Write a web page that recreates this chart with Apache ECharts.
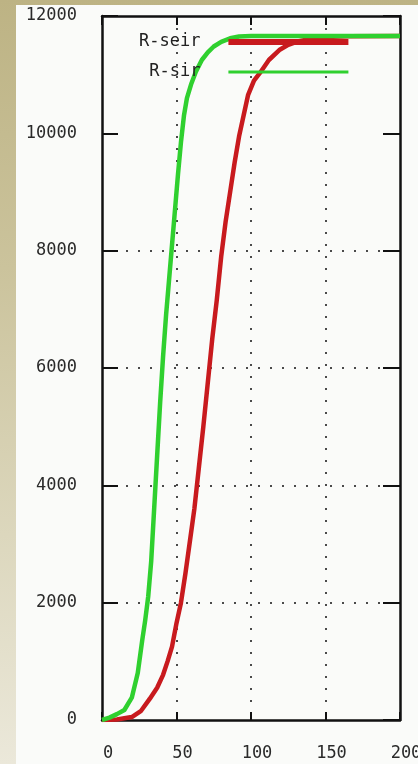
<!DOCTYPE html>
<html>
<head>
<meta charset="utf-8">
<script src="https://cdn.jsdelivr.net/npm/echarts@6/dist/echarts.min.js"></script>
<style>
  html, body { margin: 0; padding: 0; }
  body {
    width: 418px; height: 764px; overflow: hidden; position: relative;
    background: linear-gradient(180deg, #bdb384 0%, #cbc39c 35%, #dcd7bd 70%, #ebe8da 100%);
  }
  #chart { position: absolute; left: 16px; top: 5px; width: 402px; height: 759px; background: #fafbf9; }
</style>
</head>
<body>
<div id="chart"></div>
<script>
// Series names
const seriesNames = ['R-seir', 'R-sir'];

// R-seir (red) curve: time values and recovered counts
const seirT = [0, 10, 20, 26, 32, 37, 41, 44, 47, 50, 53, 56, 59, 62, 65, 68, 71, 74, 77, 80, 83, 86, 89, 92, 95, 98, 102, 106, 112, 119, 125, 132, 140, 150, 165, 200];
const seirV = [0, 10, 50, 150, 360, 550, 770, 1000, 1250, 1650, 2000, 2500, 3050, 3600, 4300, 5000, 5750, 6500, 7150, 7900, 8500, 9000, 9500, 9950, 10300, 10650, 10900, 11030, 11250, 11420, 11510, 11570, 11610, 11640, 11655, 11660];

// R-sir (green) curve: time values and recovered counts
const sirT = [0, 5, 10, 15, 20, 24, 27, 29, 31, 33, 35, 37, 39, 41, 43, 45, 47, 49, 51, 53, 55, 57, 60, 63, 67, 71, 75, 80, 86, 92, 100, 200];
const sirV = [0, 40, 100, 170, 380, 800, 1360, 1700, 2100, 2700, 3600, 4500, 5400, 6200, 6900, 7500, 8100, 8700, 9300, 9850, 10300, 10600, 10850, 11050, 11250, 11380, 11480, 11560, 11620, 11650, 11660, 11660];

// Tick labels
const xTickLabels = ['0', '50', '100', '150', '200'];
const yTickLabels = ['0', '2000', '4000', '6000', '8000', '10000', '12000'];

const pairs = (t, v) => t.map((x, i) => [x, v[i]]);

const FONT = 'DejaVu Sans Mono';
const AXIS_COLOR = '#111';
const DOT = '#4a4a4a';
const NONE = 'rgba(0,0,0,0)';

const axisLine = { show: true, onZero: false, lineStyle: { color: AXIS_COLOR, width: 2.5 } };

const chart = echarts.init(document.getElementById('chart'), null, { renderer: 'canvas' });
chart.setOption({
  animation: false,
  backgroundColor: 'transparent',
  grid: { left: 86, right: 18, top: 11, bottom: 44, containLabel: false, outerBoundsMode: 'none' },
  legend: {
    orient: 'vertical', left: 123, top: 27, align: 'right',
    itemWidth: 120, itemHeight: 6, itemGap: 10, padding: 0, selectedMode: false,
    textStyle: { fontFamily: FONT, fontSize: 17, color: '#222', lineHeight: 20, padding: [0, 23, 0, 0] },
    itemStyle: { borderWidth: 0 },
    data: [
      { name: seriesNames[0], icon: 'rect' },
      { name: seriesNames[1], icon: 'path://M0,0L0,0M0,1.5H120V4.5H0ZM120,6L120,6' }
    ]
  },
  xAxis: [
    {
      type: 'value', min: 0, max: 200, interval: 50, position: 'bottom',
      axisLine: axisLine,
      axisTick: { show: true, inside: true, length: 8, lineStyle: { color: AXIS_COLOR, width: 2 } },
      axisLabel: {
        margin: 25, fontFamily: FONT, fontSize: 17, color: '#2a2a2a', padding: [0, 0, 0, 12],
        formatter: (v) => xTickLabels[Math.round(v / 50)]
      },
      splitLine: { show: true, lineStyle: { type: [2, 10], color: [NONE, DOT, DOT, DOT, NONE], width: 2 } }
    },
    {
      type: 'value', min: 0, max: 200, interval: 50, position: 'top',
      axisLine: axisLine,
      axisTick: { show: true, inside: true, length: 9, lineStyle: { color: AXIS_COLOR, width: 2 } },
      axisLabel: { show: false },
      splitLine: { show: false }
    }
  ],
  yAxis: [
    {
      type: 'value', min: 0, max: 12000, interval: 2000, position: 'left',
      axisLine: axisLine,
      axisTick: { show: true, inside: true, length: 16, lineStyle: { color: AXIS_COLOR, width: 2 } },
      axisLabel: {
        margin: 25, fontFamily: FONT, fontSize: 17, color: '#2a2a2a',
        formatter: (v) => yTickLabels[Math.round(v / 2000)]
      },
      splitLine: { show: true, lineStyle: { type: [2, 10], color: [NONE, DOT, DOT, DOT, DOT, NONE, NONE], width: 2 } }
    },
    {
      type: 'value', min: 0, max: 12000, interval: 2000, position: 'right',
      axisLine: axisLine,
      axisTick: { show: true, inside: true, length: 17, lineStyle: { color: AXIS_COLOR, width: 2 } },
      axisLabel: { show: false },
      splitLine: { show: false }
    }
  ],
  series: [
    {
      name: seriesNames[0], type: 'line', xAxisIndex: 0, yAxisIndex: 0,
      data: pairs(seirT, seirV), symbol: 'none', showSymbol: false, smooth: false,
      color: '#c81a1e', itemStyle: { color: '#c81a1e' },
      lineStyle: { color: '#c81a1e', width: 4.5, join: 'round' }
    },
    {
      name: seriesNames[1], type: 'line', xAxisIndex: 0, yAxisIndex: 0,
      data: pairs(sirT, sirV), symbol: 'none', showSymbol: false, smooth: false,
      color: '#2fd02f', itemStyle: { color: '#2fd02f' },
      lineStyle: { color: '#2fd02f', width: 4.5, join: 'round' }
    }
  ]
});
</script>
</body>
</html>
